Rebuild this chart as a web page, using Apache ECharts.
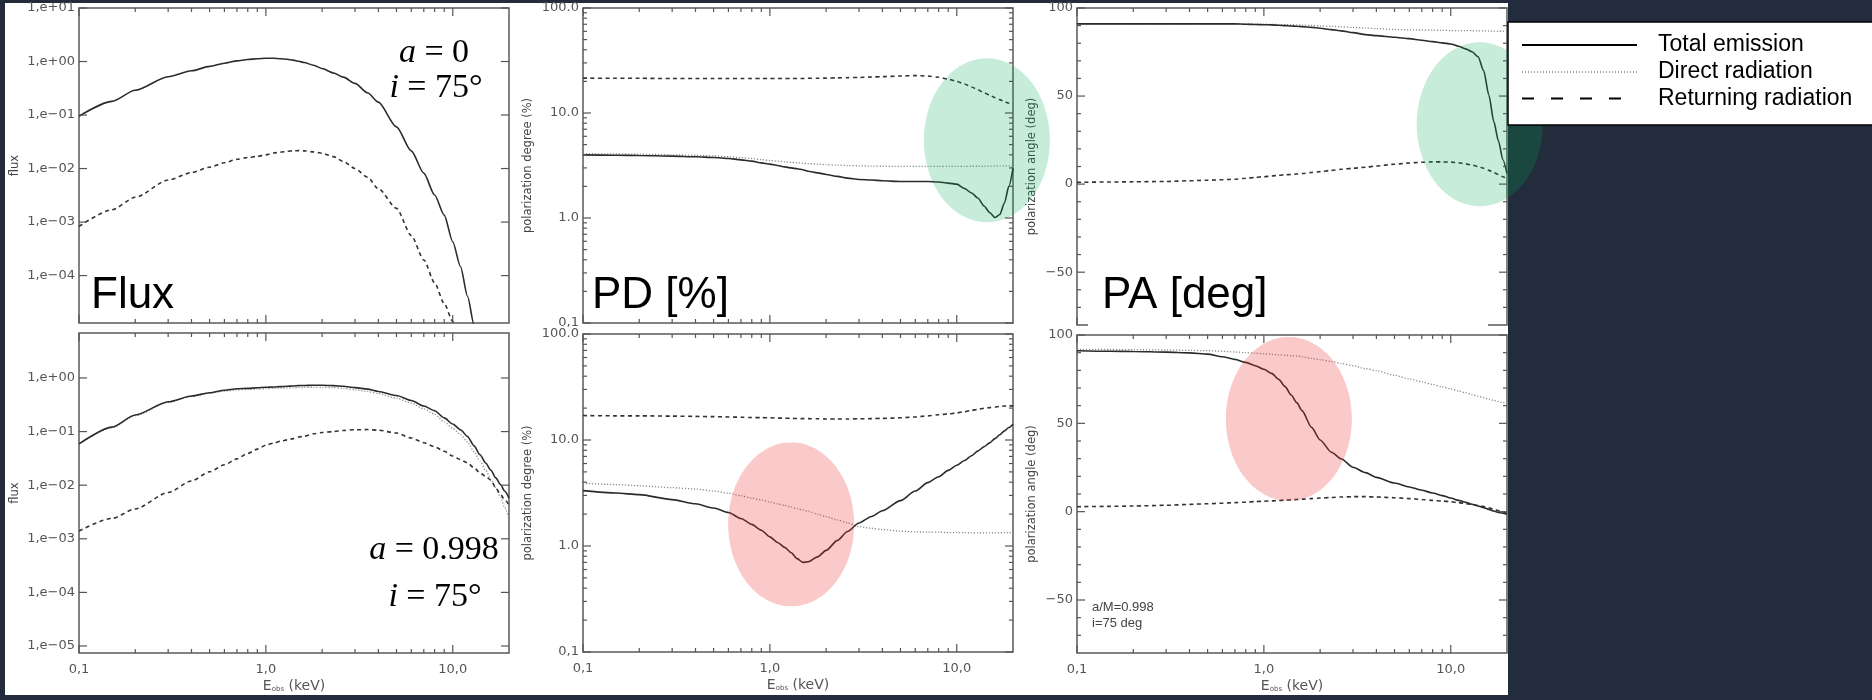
<!DOCTYPE html>
<html>
<head>
<meta charset="utf-8">
<script src="https://cdn.jsdelivr.net/npm/echarts@6/dist/echarts.min.js"></script>
<style>
  html, body { margin: 0; padding: 0; background: #222c3c; }
  #chart { width: 1872px; height: 700px; }
</style>
</head>
<body>
<div id="chart"></div>
<script>
// observed photon energy (keV), shared by every curve
const energy = [0.1, 0.15, 0.2, 0.3, 0.4, 0.5, 0.6, 0.7, 0.8, 0.9,
  1.0, 1.1, 1.2, 1.3, 1.4, 1.5, 1.6,
  1.8, 2.0, 2.3, 2.6, 3.0, 3.5, 4.0,
  5, 6, 7, 8, 9, 10,
  11, 12, 13, 14, 15, 16, 17, 18, 19, 20];

// flux, a = 0 (null = below the plotted range)
const fluxA0Total = [0.095, 0.18, 0.29, 0.52, 0.67, 0.81, 0.93, 1.03, 1.09, 1.13,
  1.15, 1.15, 1.13, 1.10, 1.06, 1.01, 0.96,
  0.85, 0.74, 0.61, 0.51, 0.39, 0.26, 0.174,
  0.06, 0.0214, 8.2e-3, 3.2e-3, 1.35e-3, 4.3e-4,
  1.48e-4, 4.1e-5, 1.2e-5, 3e-6, null, null, null, null, null, null];
const fluxA0Return = [8.3e-4, 1.7e-3, 2.9e-3, 6.1e-3, 8.4e-3, 0.0106, 0.0128, 0.0149, 0.0161, 0.0169,
  0.018, 0.0195, 0.0203, 0.021, 0.0215, 0.0216, 0.0214,
  0.0205, 0.0193, 0.0167, 0.0135, 0.010, 6.9e-3, 4.2e-3,
  1.8e-3, 5.6e-4, 1.96e-4, 7.3e-5, 3.0e-5, 1.4e-5,
  3e-6, null, null, null, null, null, null, null, null, null];

// flux, a = 0.998
const fluxA998Total = [0.059, 0.121, 0.204, 0.36, 0.46, 0.53, 0.59, 0.63, 0.64, 0.655,
  0.67, 0.68, 0.69, 0.70, 0.71, 0.72, 0.725,
  0.73, 0.73, 0.72, 0.70, 0.66, 0.62, 0.56,
  0.47, 0.38, 0.30, 0.245, 0.18, 0.138,
  0.108, 0.081, 0.054, 0.037, 0.026, 0.019, 0.0137, 0.0103, 0.0077, 0.0057];
const fluxA998Direct = [0.058, 0.118, 0.198, 0.35, 0.45, 0.52, 0.565, 0.6, 0.61, 0.62,
  0.63, 0.64, 0.645, 0.65, 0.655, 0.66, 0.665,
  0.67, 0.67, 0.66, 0.64, 0.60, 0.56, 0.51,
  0.42, 0.34, 0.265, 0.21, 0.153, 0.115,
  0.088, 0.064, 0.042, 0.028, 0.019, 0.013, 0.0088, 0.006, 0.0038, 0.0023];
const fluxA998Return = [1.4e-3, 2.4e-3, 3.6e-3, 7.3e-3, 0.012, 0.0178, 0.024, 0.031, 0.039, 0.047,
  0.056, 0.061, 0.066, 0.070, 0.074, 0.079, 0.082,
  0.091, 0.096, 0.10, 0.105, 0.108, 0.109, 0.106,
  0.094, 0.076, 0.062, 0.052, 0.043, 0.035,
  0.030, 0.026, 0.021, 0.017, 0.0146, 0.0124, 0.0089, 0.0067, 0.0053, 0.0043];

// polarization degree (%)
const pdA0Total = [3.99, 3.96, 3.94, 3.88, 3.83, 3.77, 3.69, 3.58, 3.48, 3.35,
  3.26, 3.16, 3.07, 3.0, 2.94, 2.88, 2.79,
  2.69, 2.6, 2.49, 2.4, 2.33, 2.3, 2.26,
  2.23, 2.23, 2.23, 2.2, 2.15, 2.1,
  1.91, 1.73, 1.54, 1.3, 1.13, 1.01, 1.08, 1.39, 2.0, 2.98];
const pdA0Direct = [4.1, 4.08, 4.05, 4.0, 3.96, 3.9, 3.83, 3.76, 3.68, 3.6,
  3.53, 3.48, 3.43, 3.39, 3.36, 3.33, 3.3,
  3.26, 3.22, 3.19, 3.16, 3.14, 3.12, 3.11,
  3.1, 3.1, 3.1, 3.1, 3.1, 3.1,
  3.1, 3.11, 3.11, 3.12, 3.12, 3.13, 3.13, 3.14, 3.14, 3.15];
const pdA0Return = [21.5, 21.4, 21.4, 21.3, 21.3, 21.3, 21.3, 21.3, 21.3, 21.3,
  21.3, 21.3, 21.3, 21.3, 21.3, 21.3, 21.4,
  21.4, 21.5, 21.6, 21.7, 21.8, 22.0, 22.2,
  22.5, 22.7, 22.5, 21.9, 21.0, 20.0,
  18.9, 17.7, 16.6, 15.6, 14.8, 14.0, 13.4, 12.8, 12.4, 12.0];
const pdA998Total = [3.33, 3.16, 3.05, 2.74, 2.5, 2.28, 2.07, 1.82, 1.6, 1.41,
  1.22, 1.08, 0.97, 0.865, 0.76, 0.70, 0.71,
  0.79, 0.91, 1.13, 1.37, 1.65, 1.9, 2.15,
  2.68, 3.3, 3.96, 4.5, 5.17, 5.77,
  6.4, 7.1, 7.9, 8.65, 9.4, 10.3, 11.2, 12.2, 13.1, 14.1];
const pdA998Direct = [3.9, 3.8, 3.7, 3.55, 3.45, 3.3, 3.15, 2.98, 2.83, 2.72,
  2.6, 2.5, 2.42, 2.33, 2.25, 2.19, 2.13,
  2.0, 1.89, 1.76, 1.65, 1.52, 1.47, 1.43,
  1.38, 1.36, 1.35, 1.35, 1.34, 1.34,
  1.34, 1.33, 1.33, 1.33, 1.33, 1.33, 1.33, 1.34, 1.34, 1.34];
const pdA998Return = [17.0, 16.9, 16.9, 16.8, 16.7, 16.6, 16.5, 16.4, 16.3, 16.25,
  16.2, 16.1, 16.05, 16.0, 15.95, 15.9, 15.9,
  15.85, 15.8, 15.8, 15.8, 15.85, 15.9, 16.0,
  16.2, 16.5, 16.9, 17.3, 17.6, 18.0,
  18.5, 19.0, 19.5, 19.9, 20.2, 20.5, 20.7, 20.9, 21.0, 21.0];

// polarization angle (deg)
const paA0Total = [91, 91, 91, 91, 91, 91, 91, 91, 90.8, 90.6,
  90.5, 90.4, 90.2, 90.0, 89.8, 89.6, 89.4,
  89.0, 88.5, 87.7, 87.0, 86.0, 84.9, 84.3,
  83.4, 82.6, 81.7, 80.9, 80.2, 79.6,
  78.3, 76.8, 75.2, 72.3, 64.5, 50.5, 35.5, 24.5, 14, 6];
const paA0Direct = [91, 91, 91, 91, 91, 91, 91, 91, 91, 90.9,
  90.8, 90.7, 90.6, 90.6, 90.5, 90.4, 90.3,
  90.1, 89.9, 89.6, 89.3, 89.0, 88.6, 88.3,
  87.8, 87.6, 87.5, 87.4, 87.3, 87.2,
  87.2, 87.1, 87.1, 87.0, 87.0, 86.9, 86.9, 86.8, 86.8, 86.8];
const paA0Return = [1.0, 1.2, 1.3, 1.5, 1.9, 2.2, 2.5, 2.8, 3.3, 3.8,
  4.2, 4.6, 5.0, 5.3, 5.5, 5.7, 6.0,
  6.6, 7.1, 7.8, 8.4, 9.0, 9.6, 10.3,
  11.3, 12.0, 12.4, 12.6, 12.6, 12.5,
  12.1, 11.5, 10.8, 10.0, 9.0, 7.8, 6.6, 5.4, 4.2, 3.0];
const paA998Total = [91.1, 90.8, 90.7, 90.3, 89.9, 89.2, 87.7, 86.2, 84.5, 82.6,
  80.6, 78.3, 74.9, 70.8, 66.0, 61.7, 57.2,
  47.7, 40.6, 33.6, 29.8, 25.1, 22.1, 19.4,
  16.2, 14.0, 12.1, 10.6, 9.1, 7.7,
  6.4, 5.3, 4.2, 3.2, 2.3, 1.3, 0.4, -0.4, -0.9, -1.5];
const paA998Direct = [91.9, 91.8, 91.7, 91.5, 91.3, 91.1, 90.8, 90.4, 90.0, 89.7,
  89.4, 89.1, 88.8, 88.5, 88.3, 88.1, 87.7,
  86.8, 86.0, 85.0, 83.9, 82.6, 81.0, 79.8,
  77.2, 75.2, 73.5, 72.0, 70.7, 69.5,
  68.4, 67.3, 66.3, 65.4, 64.5, 63.7, 63.0, 62.3, 61.7, 61.1];
const paA998Return = [2.8, 3.0, 3.2, 3.6, 4.1, 4.5, 4.8, 5.1, 5.4, 5.7,
  5.9, 6.1, 6.3, 6.5, 6.7, 6.9, 7.1,
  7.4, 7.7, 8.0, 8.3, 8.5, 8.5, 8.3,
  7.9, 7.4, 6.9, 6.4, 6.0, 5.6,
  5.1, 4.6, 4.0, 3.5, 2.9, 2.2, 1.4, 0.6, -0.2, -1.0];

// ticks and tick labels
const xMajorTicks = [0.1, 1, 10];
const xMinorTicks = [0.2, 0.3, 0.4, 0.5, 0.6, 0.7, 0.8, 0.9, 2, 3, 4, 5, 6, 7, 8, 9];
const xTickLabels = ['0,1', '1,0', '10,0'];
const fluxMajorTicks = [1e-5, 1e-4, 1e-3, 1e-2, 1e-1, 1, 10];
const pdMajorTicks = [0.1, 1, 10, 100];
const pdMinorTicks = [0.2, 0.3, 0.4, 0.5, 0.6, 0.7, 0.8, 0.9, 2, 3, 4, 5, 6, 7, 8, 9,
  20, 30, 40, 50, 60, 70, 80, 90];
const pdTickLabels = ['0,1', '1.0', '10.0', '100.0'];
const paMajorTicks = [-50, 0, 50, 100];
const paMinorTicks = [-70, -60, -40, -30, -20, -10, 10, 20, 30, 40, 60, 70, 80, 90];

// highlighted regions (centre in data units)
const greenPD = [14.5, 5.5];
const greenPA = [14.3, 34];
const redPD = [1.3, 1.6];
const redPA = [1.36, 52.5];

const legendNames = ['Total emission', 'Direct radiation', 'Returning radiation'];

const chart = echarts.init(document.getElementById('chart'));

const tickFont = { fontFamily: 'DejaVu Sans', fontSize: 13, color: '#555' };
const nameFont = { fontFamily: 'DejaVu Sans', fontSize: 11.5, color: '#444' };

function isPow10(v) {
  const e = Math.log10(v);
  return Math.abs(e - Math.round(e)) < 1e-6;
}
function xLabel(v) {
  if (!isPow10(v)) return '';
  return xTickLabels[Math.round(Math.log10(v)) + 1] || '';
}
function fluxLabel(v) {
  if (!isPow10(v)) return '';
  const e = Math.round(Math.log10(v));
  return '1,e' + (e < 0 ? '\u2212' : '+') + String(Math.abs(e)).padStart(2, '0');
}
function pdLabel(v) {
  if (!isPow10(v)) return '';
  return pdTickLabels[Math.round(Math.log10(v)) + 1] || '';
}
function paLabel(v) {
  if (v % 50 !== 0) return '';
  return v < 0 ? '\u2212' + (-v) : String(v);
}

const panels = [
  { left: 79, top: 8, height: 315, y: { type: 'log', min: 1.3e-5, max: 10 }, name: 'flux', gap: 58, fmt: fluxLabel, majors: fluxMajorTicks, minors: [], bottomRow: false },
  { left: 79, top: 333, height: 320, y: { type: 'log', min: 7.4e-6, max: 6.9 }, name: 'flux', gap: 58, fmt: fluxLabel, majors: fluxMajorTicks, minors: [], bottomRow: true },
  { left: 583, top: 8, height: 315, y: { type: 'log', min: 0.1, max: 100 }, name: 'polarization degree (%)', gap: 49, fmt: pdLabel, majors: pdMajorTicks, minors: pdMinorTicks, bottomRow: false },
  { left: 583, top: 334, height: 318, y: { type: 'log', min: 0.1, max: 100 }, name: 'polarization degree (%)', gap: 49, fmt: pdLabel, majors: pdMajorTicks, minors: pdMinorTicks, bottomRow: true },
  { left: 1077, top: 8, height: 317, y: { type: 'value', min: -80, max: 100, interval: 10 }, name: 'polarization angle (deg)', gap: 39, fmt: paLabel, majors: paMajorTicks, minors: paMinorTicks, bottomRow: false },
  { left: 1077, top: 335, height: 318, y: { type: 'value', min: -80, max: 100, interval: 10 }, name: 'polarization angle (deg)', gap: 39, fmt: paLabel, majors: paMajorTicks, minors: paMinorTicks, bottomRow: true }
];
const panelWidth = 430;

const grids = panels.map(p => ({
  left: p.left, top: p.top, width: panelWidth, height: p.height,
  show: true, borderColor: '#5a5a5a', borderWidth: 1.5, backgroundColor: 'transparent'
}));

const xAxes = panels.map((p, i) => ({
  type: 'log', logBase: 10, gridIndex: i, min: 0.1, max: 20,
  axisLine: { show: false }, axisTick: { show: false }, splitLine: { show: false },
  axisLabel: Object.assign({ show: p.bottomRow, margin: 10, formatter: xLabel }, tickFont),
  name: p.bottomRow ? '{e|E}{s|obs}{e| (keV)}' : '',
  nameLocation: 'middle', nameGap: 26,
  nameTextStyle: {
    rich: {
      e: { fontFamily: 'DejaVu Sans', fontSize: 14, color: '#555' },
      s: { fontFamily: 'DejaVu Sans', fontSize: 7, color: '#555', verticalAlign: 'bottom', padding: [6, 0, 0, 0] }
    }
  }
}));

const yAxes = panels.map((p, i) => Object.assign({
  gridIndex: i,
  axisLine: { show: false }, axisTick: { show: false }, splitLine: { show: false },
  axisLabel: Object.assign({ margin: 4, formatter: p.fmt }, tickFont),
  name: p.name, nameLocation: 'middle', nameRotate: 90, nameGap: p.gap,
  nameTextStyle: nameFont
}, p.y, p.y.type === 'log' ? { logBase: 10 } : {}));

// translucent highlight ellipse around a data point
function ellipseRenderer(fill) {
  return function (params, api) {
    const c = api.coord([api.value(0), api.value(1)]);
    const pts = [];
    for (let k = 0; k < 90; k++) {
      const t = k / 90 * 2 * Math.PI;
      pts.push([c[0] + 63 * Math.cos(t), c[1] + 82 * Math.sin(t)]);
    }
    return { type: 'polygon', shape: { points: pts }, style: { fill: fill } };
  };
}

const totalStyle = { color: '#2b2b2b', width: 1.6, type: 'solid' };
const directStyle = { color: '#8a8a8a', width: 1.3, type: [1.2, 1.8] };
const returnStyle = { color: '#333', width: 1.6, type: [4, 3.5] };

function curve(name, idx, values, style) {
  return {
    name: name, type: 'line', xAxisIndex: idx, yAxisIndex: idx,
    data: energy.map((e, k) => [e, values[k]]).filter(p => p[1] !== null),
    symbol: 'none', showSymbol: false, silent: true, z: 2,
    smooth: 0.25, smoothMonotone: 'x',
    lineStyle: style, itemStyle: { color: style.color }
  };
}

const series = [
  curve(legendNames[2], 0, fluxA0Return, returnStyle),
  curve(legendNames[0], 0, fluxA0Total, totalStyle),
  curve(legendNames[1], 1, fluxA998Direct, directStyle),
  curve(legendNames[2], 1, fluxA998Return, returnStyle),
  curve(legendNames[0], 1, fluxA998Total, totalStyle),
  curve(legendNames[1], 2, pdA0Direct, directStyle),
  curve(legendNames[2], 2, pdA0Return, returnStyle),
  curve(legendNames[0], 2, pdA0Total, totalStyle),
  curve(legendNames[1], 3, pdA998Direct, directStyle),
  curve(legendNames[2], 3, pdA998Return, returnStyle),
  curve(legendNames[0], 3, pdA998Total, totalStyle),
  curve(legendNames[1], 4, paA0Direct, directStyle),
  curve(legendNames[2], 4, paA0Return, returnStyle),
  curve(legendNames[0], 4, paA0Total, totalStyle),
  curve(legendNames[1], 5, paA998Direct, directStyle),
  curve(legendNames[2], 5, paA998Return, returnStyle),
  curve(legendNames[0], 5, paA998Total, totalStyle)
];

[[2, greenPD, 'rgba(0,170,80,0.22)'], [4, greenPA, 'rgba(0,170,80,0.22)'],
 [3, redPD, 'rgba(235,45,45,0.25)'], [5, redPA, 'rgba(235,45,45,0.25)']].forEach(e => {
  series.push({
    type: 'custom', xAxisIndex: e[0], yAxisIndex: e[0], silent: true, z: 10, clip: false,
    data: [e[1]], renderItem: ellipseRenderer(e[2])
  });
});

chart.setOption({
  backgroundColor: '#222c3c',
  animation: false,
  grid: grids,
  xAxis: xAxes,
  yAxis: yAxes,
  series: series
});

// inward ticks on all four sides, placed through each panel's own axes
const tickLines = [];
function tick(x1, y1, x2, y2) {
  tickLines.push({
    type: 'line', z: 30, silent: true, shape: { x1: x1, y1: y1, x2: x2, y2: y2 },
    style: { stroke: '#555', lineWidth: 1.2 }
  });
}
panels.forEach((p, i) => {
  const left = p.left, right = p.left + panelWidth, top = p.top, bottom = p.top + p.height;
  const xt = (vals, len) => vals.forEach(v => {
    const x = chart.convertToPixel({ xAxisIndex: i }, v);
    tick(x, bottom, x, bottom - len);
    tick(x, top, x, top + len);
  });
  const yt = (vals, len) => vals.forEach(v => {
    const y = chart.convertToPixel({ yAxisIndex: i }, v);
    if (y < top - 0.5 || y > bottom + 0.5) return;
    tick(left, y, left + len, y);
    tick(right, y, right - len, y);
  });
  xt(xMajorTicks, 8);
  xt(xMinorTicks, 4);
  yt(p.majors, 8);
  yt(p.minors, 4);
});

const sans = 'Liberation Sans';
const serif = 'Liberation Serif';
function mathText(txt, x, y) {
  return {
    type: 'text', z: 60, style: {
      text: txt, x: x, y: y, textAlign: 'center', textVerticalAlign: 'middle',
      fontFamily: serif, fontSize: 34, fill: '#000',
      rich: { i: { fontFamily: serif, fontSize: 34, fontStyle: 'italic', fill: '#000' } }
    }
  };
}
function bigLabel(txt, x) {
  return {
    type: 'text', z: 60, style: {
      text: txt, x: x, y: 296, textAlign: 'left', textVerticalAlign: 'middle',
      fontFamily: sans, fontSize: 44, fill: '#000'
    }
  };
}

// legend drawn by hand so the sample dashes match the figure
const legendRows = [45, 72, 98.5];
const legendDash = [null, [1, 2], [12, 17]];
const legendColor = ['#000', '#444', '#000'];
const legendWidth = [2, 1, 2];
const legendGraphic = [{
  type: 'rect', z: 20, shape: { x: 1508, y: 22, width: 380, height: 103 },
  style: { fill: '#fff', stroke: '#000', lineWidth: 1.5 }
}];
legendNames.forEach((n, k) => {
  legendGraphic.push({
    type: 'line', z: 21, shape: { x1: 1522, y1: legendRows[k], x2: 1637, y2: legendRows[k] },
    style: { stroke: legendColor[k], lineWidth: legendWidth[k], lineDash: legendDash[k] }
  });
  legendGraphic.push({
    type: 'text', z: 21, style: {
      text: n, x: 1658, y: legendRows[k], textVerticalAlign: 'middle',
      fontFamily: sans, fontSize: 23, fill: '#000'
    }
  });
});

chart.setOption({
  graphic: [
    { type: 'rect', z: -10, shape: { x: 5, y: 3, width: 1503, height: 692 }, style: { fill: '#fff' } },
    // white box behind "PA [deg]" hides the lower frame of that panel
    { type: 'rect', z: 50, shape: { x: 1088, y: 316, width: 400, height: 16 }, style: { fill: '#fff' } },
    bigLabel('Flux', 91),
    bigLabel('PD [%]', 592),
    bigLabel('PA [deg]', 1102),
    mathText('{i|a} = 0', 434, 53),
    mathText('{i|i} = 75°', 436, 88),
    mathText('{i|a} = 0.998', 434, 550),
    mathText('{i|i} = 75°', 435, 597),
    { type: 'text', z: 60, style: { text: 'a/M=0.998', x: 1092, y: 607, textVerticalAlign: 'middle', fontFamily: sans, fontSize: 13, fill: '#444' } },
    { type: 'text', z: 60, style: { text: 'i=75 deg', x: 1092, y: 623, textVerticalAlign: 'middle', fontFamily: sans, fontSize: 13, fill: '#444' } }
  ].concat(legendGraphic, tickLines)
});

window.addEventListener('resize', function () {
  chart.resize();
});
</script>
</body>
</html>
